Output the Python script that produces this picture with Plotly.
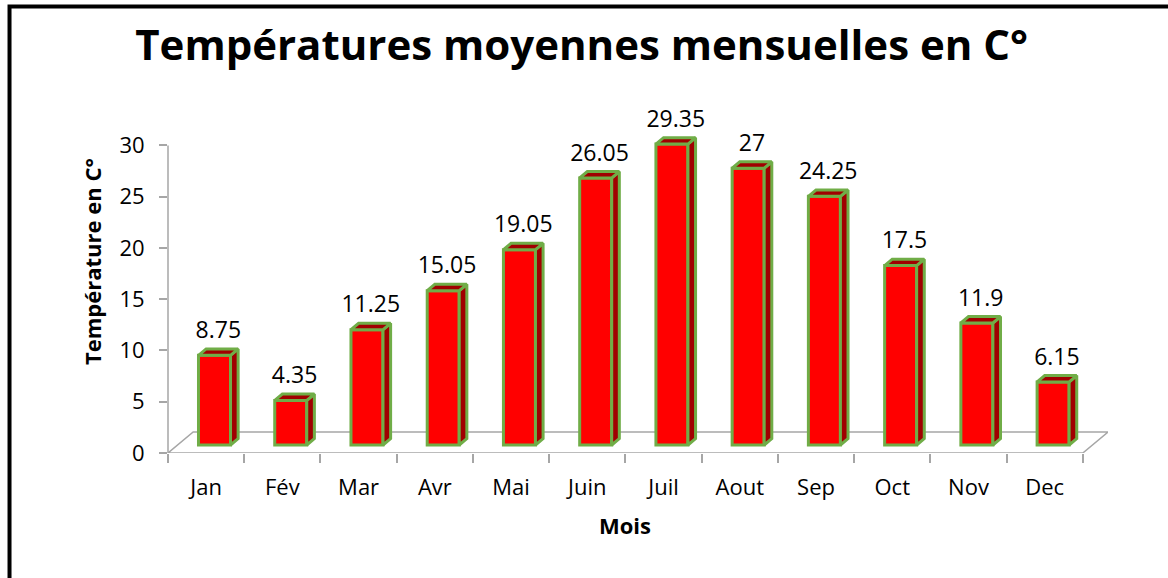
import plotly.graph_objects as go

mois = ['Jan', 'Fév', 'Mar', 'Avr', 'Mai', 'Juin', 'Juil', 'Aout', 'Sep', 'Oct', 'Nov', 'Dec']
temperatures = [8.75, 4.35, 11.25, 15.05, 19.05, 26.05, 29.35, 27, 24.25, 17.5, 11.9, 6.15]
y_ticks = [0, 5, 10, 15, 20, 25, 30]

# fake 3D: floor depth and bar geometry in data units
DX, DY = 0.33, 2.05          # depth of the floor
XOFF, BASE = 0.11, 0.78      # bars sit in the middle of the floor
W = 0.42                     # bar width
BDX, BDY = 0.10, 0.62        # depth of each bar

ROUGE, ROUGE_FONCE, VERT, GRIS = '#FF0000', '#A00000', '#70AD47', '#A6A6A6'
FONT = 'Open Sans'

n = len(mois)
xs = [i + XOFF for i in range(n)]

side_x, side_y, top_x, top_y = [], [], [], []
for x, v in zip(xs, temperatures):
    xl, xr, b, t = x - W / 2, x + W / 2, BASE, BASE + v
    side_x += [xr, xr + BDX, xr + BDX, xr, xr, None]
    side_y += [b, b + BDY, t + BDY, t, b, None]
    top_x += [xl, xr, xr + BDX, xl + BDX, xl, None]
    top_y += [t, t, t + BDY, t + BDY, t, None]

fig = go.Figure()

fig.add_trace(go.Bar(x=xs, y=temperatures, base=BASE, width=W,
                     marker=dict(color=ROUGE, line=dict(color=VERT, width=3))))
fig.add_trace(go.Scatter(x=side_x, y=side_y, mode='lines', fill='toself', fillcolor=ROUGE_FONCE,
                         line=dict(color=VERT, width=3)))
fig.add_trace(go.Scatter(x=top_x, y=top_y, mode='lines', fill='toself', fillcolor=ROUGE_FONCE,
                         line=dict(color=VERT, width=3)))
fig.add_trace(go.Scatter(x=[x + BDX / 2 for x in xs], y=[BASE + v + BDY + 0.5 for v in temperatures],
                         mode='text', text=[f'{v:g}' for v in temperatures], textposition='top center',
                         textfont=dict(family=FONT, size=23, color='black'), cliponaxis=False))

# floor (below the bars)
x0, x1 = -0.5, n - 0.5
fig.add_shape(type='path', xref='x', yref='y', layer='below',
              path=f'M {x0},0 L {x1},0 L {x1 + DX},{DY} L {x0 + DX},{DY} Z',
              line=dict(color=GRIS, width=1.5), fillcolor='white')
# y axis line
fig.add_shape(type='line', xref='paper', yref='y', x0=0, x1=0, y0=0, y1=30,
              line=dict(color=GRIS, width=1.5))
# outer frame
fig.add_shape(type='rect', xref='paper', yref='paper', x0=-0.1686, x1=1.08, y0=-0.45, y1=1.382,
              line=dict(color='black', width=4))

fig.add_annotation(text='<b>Température en C°</b>', textangle=-90, xref='paper', yref='paper',
                   x=-0.081, y=0.594, xanchor='center', yanchor='middle', showarrow=False,
                   font=dict(family=FONT, size=22, color='black'))
fig.add_annotation(text='<b>Mois</b>', xref='paper', yref='paper', x=0.486, y=-0.223,
                   xanchor='center', yanchor='middle', showarrow=False,
                   font=dict(family=FONT, size=22, color='black'))

fig.update_layout(
    width=1168, height=578,
    margin=dict(l=168, r=60, t=130, b=125),
    paper_bgcolor='white', plot_bgcolor='white',
    showlegend=False,
    title=dict(text='<b>Températures moyennes mensuelles en C°</b>', x=0.498, xanchor='center',
               y=0.922, yanchor='middle', font=dict(family=FONT, size=42, color='black')),
    xaxis=dict(range=[x0, x1 + DX], tickmode='array', tickvals=list(range(n)), ticktext=mois,
               ticks='', showgrid=False, zeroline=False, showline=False,
               tickfont=dict(family=FONT, size=22, color='black'), ticklabelstandoff=19,
               minor=dict(tickmode='array', tickvals=[i - 0.5 for i in range(n + 1)], ticks='outside',
                          ticklen=9, tickcolor=GRIS, tickwidth=1.5, showgrid=False)),
    yaxis=dict(range=[0, 31.5], tickmode='array', tickvals=y_ticks, ticks='outside', ticklen=8,
               tickcolor=GRIS, tickwidth=1.5, showgrid=False, zeroline=False, showline=False,
               tickfont=dict(family=FONT, size=22, color='black'), ticklabelstandoff=10),
)

fig.write_html('out.html', config={'displayModeBar': False},
               post_script="document.body.style.margin='0';")
